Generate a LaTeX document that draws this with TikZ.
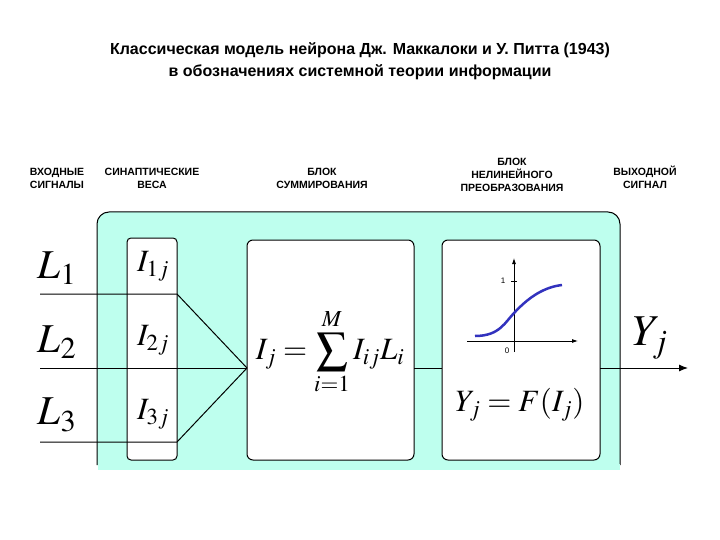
\documentclass[tikz,border=0pt]{standalone}
\usepackage{mathptmx}
\usepackage{fontspec}
\setmainfont{Liberation Sans}
\usetikzlibrary{arrows.meta}
\definecolor{cyanbg}{RGB}{190,255,238}
\definecolor{curveblue}{RGB}{50,50,190}
\tikzset{
 hdr/.style={font=\fontsize{10.5}{13}\selectfont\bfseries, align=center, inner sep=0pt},
 blk/.style={draw, line width=1pt, fill=white, rounded corners=6pt},
 sig/.style={line width=1pt},
 mth/.style={font=\fontsize{31}{33}\selectfont, inner sep=0pt},
 big/.style={font=\fontsize{41}{43}\selectfont, inner sep=0pt},
 wt/.style={font=\fontsize{31}{33}\selectfont, inner sep=0pt}
}
\begin{document}
\begin{tikzpicture}[x=1pt,y=-1pt]
\useasboundingbox (0,0) rectangle (720,540);
\node[font=\fontsize{16}{22}\selectfont\bfseries, align=center, inner sep=0pt] (title) at (360,61) {Классическая модель нейрона Дж. Маккалоки и У. Питта (1943)\\в обозначениях системной теории информации};
\node[hdr] (h1) at (57,178) {ВХОДНЫЕ\\СИГНАЛЫ};
\node[hdr] (h2) at (152,178) {СИНАПТИЧЕСКИЕ\\ВЕСА};
\node[hdr] (h3) at (322,178) {БЛОК\\СУММИРОВАНИЯ};
\node[hdr] (h4) at (512,175) {БЛОК\\НЕЛИНЕЙНОГО\\ПРЕОБРАЗОВАНИЯ};
\node[hdr] (h5) at (645,177) {ВЫХОДНОЙ\\СИГНАЛ};
% outer
\draw[line width=1pt, fill=cyanbg, rounded corners=12pt] (97,465) -- (97,212) -- (620,212) -- (620,465);
\fill[cyanbg] (97.5,464) rectangle (619.5,470);
% blocks
\draw[blk, rounded corners=4pt] (127,238) rectangle (177,460);
\draw[blk] (247,240) rectangle (414,460);
\draw[blk] (442,240) rectangle (600,460);
\coordinate (in1) at (40,294); \coordinate (in2) at (40,368); \coordinate (in3) at (40,442);
\coordinate (w1) at (177,294); \coordinate (w2) at (177,368); \coordinate (w3) at (177,442);
\coordinate (s) at (247,368);
\draw[sig] (in1) -- (w1) -- (s);
\draw[sig] (in2) -- (s);
\draw[sig] (in3) -- (w3) -- (s);
\coordinate (s2) at (414,368); \coordinate (n1) at (442,368);
\coordinate (n2) at (600,368); \coordinate (out) at (688,368);
\draw[sig] (s2) -- (n1);
\draw[sig,-{Latex[length=9pt,width=7pt]}] (n2) -- (out);
\node[big] (L1) at (57,268) {$L_1$};
\node[big] (L2) at (57,342) {$L_2$};
\node[big] (L3) at (57,415) {$L_3$};
\node[wt] (I1) at (153,266) {$I_{1j}$};
\node[wt] (I2) at (153,340) {$I_{2j}$};
\node[wt] (I3) at (153,414) {$I_{3j}$};
\node[mth] (sum) at (330,352) {$I_j=\displaystyle\sum_{i=1}^{M} I_{ij}L_i$};
\node[big, font=\fontsize{44}{46}\selectfont] (Y) at (650,338) {$Y_j$};
\node[mth] (F) at (520,405) {$Y_j=F(I_j)$};
% graph
\coordinate (xa) at (467,341); \coordinate (xb) at (578,341);
\coordinate (ya) at (514,352); \coordinate (yb) at (514,258);
\draw[line width=0.8pt,-{Latex[length=6pt,width=4pt]}] (xa) -- (xb);
\draw[line width=0.8pt,-{Latex[length=6pt,width=4pt]}] (ya) -- (yb);
\draw[line width=0.5pt] (511,281) -- (517,281);
\node[font=\fontsize{8}{9}\selectfont\rmfamily, inner sep=0pt] (one) at (503,281) {1};
\node[font=\fontsize{8}{9}\selectfont\rmfamily, inner sep=0pt] (zero) at (507,351) {0};
\draw[curveblue, line width=2.5pt] (475,336) .. controls (500,336) and (505,322) .. (515,312) .. controls (530,296) and (545,287) .. (562,285);
\end{tikzpicture}
\end{document}
